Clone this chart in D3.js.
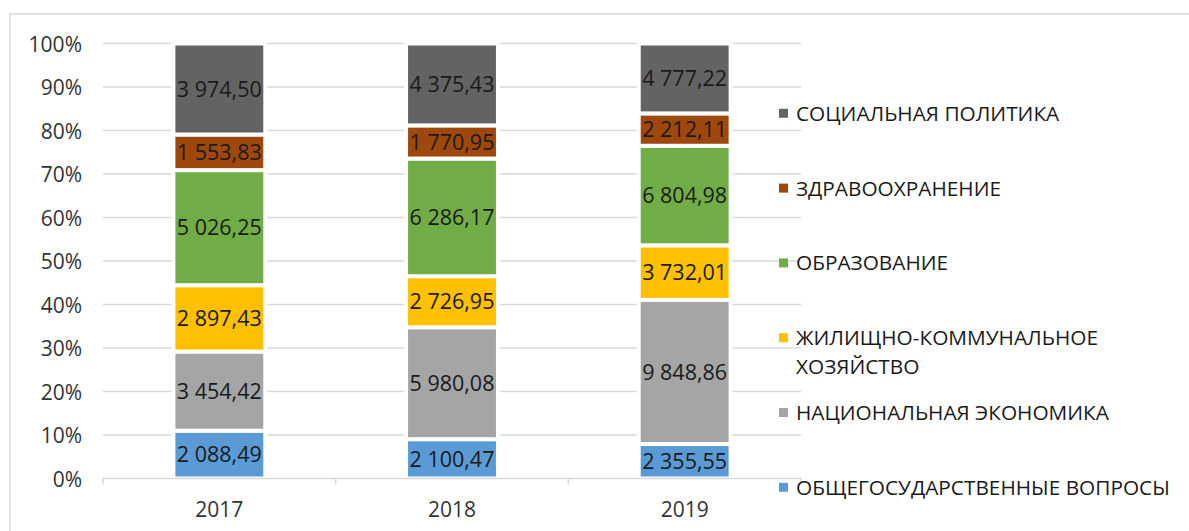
<!DOCTYPE html>
<html>
<head>
<meta charset="utf-8">
<script src="https://cdn.jsdelivr.net/npm/d3@7"></script>
<style>
  html, body { margin: 0; padding: 0; background: #ffffff; }
  svg { display: block; }
  text { font-family: "Open Sans", "Noto Sans", sans-serif; }
</style>
</head>
<body>
<svg id="chart" width="1189" height="531"></svg>
<script>
// ---- data ----
const years = ["2017", "2018", "2019"];
const seriesNames = [
  "ОБЩЕГОСУДАРСТВЕННЫЕ ВОПРОСЫ",
  "НАЦИОНАЛЬНАЯ ЭКОНОМИКА",
  "ЖИЛИЩНО-КОММУНАЛЬНОЕ ХОЗЯЙСТВО",
  "ОБРАЗОВАНИЕ",
  "ЗДРАВООХРАНЕНИЕ",
  "СОЦИАЛЬНАЯ ПОЛИТИКА"
];
const generalQuestions = [2088.49, 2100.47, 2355.55];
const nationalEconomy  = [3454.42, 5980.08, 9848.86];
const housing          = [2897.43, 2726.95, 3732.01];
const education        = [5026.25, 6286.17, 6804.98];
const healthcare       = [1553.83, 1770.95, 2212.11];
const socialPolicy     = [3974.50, 4375.43, 4777.22];
const yTickLabels = ["0%","10%","20%","30%","40%","50%","60%","70%","80%","90%","100%"];
const seriesColors = ["#5B9BD5", "#A5A5A5", "#FFC000", "#70AD47", "#9E480E", "#636363"];

const seriesValues = [generalQuestions, nationalEconomy, housing, education, healthcare, socialPolicy];
const keys = seriesNames;
const table = years.map((y, i) => {
  const row = { year: y };
  keys.forEach((k, j) => { row[k] = seriesValues[j][i]; });
  return row;
});

const svg = d3.select("#chart");
const W = 1189, H = 531;

// chart border (top + left visible)
svg.append("rect")
  .attr("x", 10).attr("y", 14)
  .attr("width", W + 20).attr("height", H + 20)
  .attr("fill", "none").attr("stroke", "#d9d9d9").attr("stroke-width", 1.5);

const plotLeft = 103, plotRight = 801, plotTop = 43.5, plotBottom = 478.5;

const x = d3.scaleBand().domain(years).range([plotLeft, plotRight])
  .paddingInner(0.605).paddingOuter(0.3025);
const y = d3.scaleLinear().domain([0, 1]).range([plotBottom, plotTop]);
const color = d3.scaleOrdinal().domain(keys).range(seriesColors);

// gridlines
const yTicks = d3.range(0, 11).map(d => d / 10);
svg.append("g").selectAll("line")
  .data(yTicks.slice(1)).join("line")
  .attr("x1", plotLeft).attr("x2", plotRight)
  .attr("y1", d => y(d)).attr("y2", d => y(d))
  .attr("stroke", "#d9d9d9").attr("stroke-width", 1.5);

// y axis labels
const yAxis = d3.axisLeft(y).tickValues(yTicks)
  .tickFormat((d, i) => yTickLabels[i]).tickSize(0).tickPadding(0);
const gy = svg.append("g").attr("transform", `translate(82,0)`).call(yAxis);
gy.select(".domain").remove();
gy.selectAll("text")
  .attr("font-size", 21).attr("fill", "#333333")
  .attr("font-family", "'Open Sans', 'Noto Sans', sans-serif")
  .attr("dy", "0.36em");

// stacked bars
const stack = d3.stack().keys(keys).offset(d3.stackOffsetExpand);
const stacked = stack(table);
const fmt = d3.formatLocale({ decimal: ",", thousands: " ", grouping: [3], currency: ["", ""] }).format(",.2f");

const layers = svg.append("g").selectAll("g")
  .data(stacked).join("g")
  .attr("fill", d => color(d.key));

layers.selectAll("rect")
  .data(d => d.map(p => ({ p, key: d.key })))
  .join("rect")
  .attr("x", d => x(d.p.data.year))
  .attr("width", x.bandwidth())
  .attr("y", d => y(d.p[1]))
  .attr("height", d => y(d.p[0]) - y(d.p[1]))
  .attr("stroke", "#ffffff").attr("stroke-width", 4);

// data labels
layers.selectAll("text")
  .data(d => d.map(p => ({ p, key: d.key })))
  .join("text")
  .attr("x", d => x(d.p.data.year) + x.bandwidth() / 2)
  .attr("y", d => (y(d.p[0]) + y(d.p[1])) / 2)
  .attr("dy", "0.36em")
  .attr("text-anchor", "middle")
  .attr("font-size", 21.5)
  .attr("fill", "#1a1a1a")
  .text(d => fmt(d.p.data[d.key]));

// x axis
const xAxis = d3.axisBottom(x).tickSize(0).tickPadding(0);
const gx = svg.append("g").attr("transform", `translate(0,${plotBottom})`).call(xAxis);
gx.select(".domain").remove();
gx.selectAll("text")
  .attr("font-size", 21).attr("fill", "#333333")
  .attr("font-family", "'Open Sans', 'Noto Sans', sans-serif")
  .attr("y", 31).attr("dy", "0.36em");
svg.append("line")
  .attr("x1", plotLeft).attr("x2", plotRight)
  .attr("y1", plotBottom).attr("y2", plotBottom)
  .attr("stroke", "#d9d9d9").attr("stroke-width", 1.5);
const boundaries = years.map(yv => x(yv) - x.step() * x.paddingInner() / 2).concat([plotRight]);
svg.append("g").selectAll("line")
  .data(boundaries).join("line")
  .attr("x1", d => d).attr("x2", d => d)
  .attr("y1", plotBottom).attr("y2", plotBottom + 6)
  .attr("stroke", "#d9d9d9").attr("stroke-width", 1.5);

// legend (reverse order)
const legendX = 779, legendTop = 113.3, legendStep = 74.8, maxTextW = 385;
const legend = svg.append("g");
keys.slice().reverse().forEach((k, i) => {
  const cy = legendTop + i * legendStep;
  legend.append("rect")
    .attr("x", legendX).attr("y", cy - 4.5)
    .attr("width", 9).attr("height", 9)
    .attr("fill", color(k));
  const t = legend.append("text")
    .attr("x", legendX + 17).attr("y", cy)
    .attr("font-size", 20.8).attr("fill", "#1a1a1a");
  // simple word wrap
  const words = k.split(" ");
  let line = [];
  let tspan = t.append("tspan").attr("x", legendX + 17).attr("dy", "0.36em");
  words.forEach(w => {
    line.push(w);
    tspan.text(line.join(" "));
    if (tspan.node().getComputedTextLength() > maxTextW && line.length > 1) {
      line.pop();
      tspan.text(line.join(" "));
      line = [w];
      tspan = t.append("tspan").attr("x", legendX + 17).attr("dy", "1.4em").text(w);
    }
  });
});
</script>
</body>
</html>
